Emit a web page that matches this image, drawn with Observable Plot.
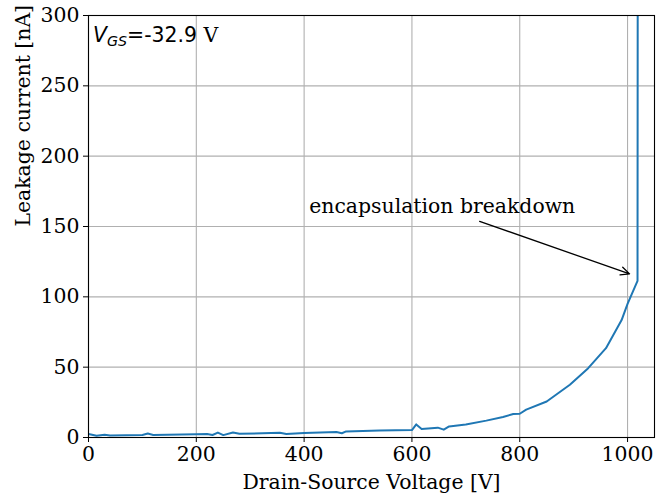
<!DOCTYPE html>
<html>
<head>
<meta charset="utf-8">
<script src="https://cdn.jsdelivr.net/npm/d3@7"></script>
<script src="https://cdn.jsdelivr.net/npm/@observablehq/plot@0.6"></script>
<style>
  html, body { margin: 0; padding: 0; background: #fff; }
  #chart svg { display: block; }
  #chart svg text { font-family: "DejaVu Serif", serif; }
</style>
</head>
<body>
<div id="chart"></div>
<script>
// Drain-source voltage [V]
const voltage = [0, 15, 30, 40, 100, 110, 120, 200, 220, 230, 240, 250, 268, 280, 355, 367, 400, 460, 470, 478, 540, 600, 608, 618, 648, 659, 669, 700, 738, 769, 788, 800, 812, 850, 893, 927, 960, 989, 1000, 1018.5, 1019];
// Leakage current [nA]
const current = [2.5, 1.2, 2, 1.5, 1.8, 2.8, 1.8, 2.3, 2.5, 1.8, 3.5, 1.7, 3.5, 2.6, 3.3, 2.5, 3.2, 3.9, 3, 4.3, 5, 5.3, 9.3, 6.1, 7, 5.6, 7.9, 9.3, 12, 14.6, 16.7, 16.9, 19.8, 25.6, 37.5, 49.3, 63.5, 83.5, 95, 111.3, 400];
const xTicks = [0, 200, 400, 600, 800, 1000];
const yTicks = [0, 50, 100, 150, 200, 250, 300];
const annotationText = ["encapsulation breakdown"];
const annotationPos = [{x: 409.5, y: 164}];
const arrowPos = [{x1: 725.6, y1: 153.7, x2: 1003.7, y2: 116.3}];
const xLabel = ["Drain-Source Voltage [V]"];
const yLabel = ["Leakage current [nA]"];

const data = voltage.map((v, i) => ({v, c: current[i]}));
const serif = '"DejaVu Serif", serif';
const fs = 20.4;

const chart = Plot.plot({
  width: 668,
  height: 497,
  marginLeft: 88,
  marginRight: 14,
  marginTop: 15,
  marginBottom: 60,
  style: {fontFamily: serif, fontSize: fs + "px", color: "black", background: "white"},
  x: {domain: [0, 1050]},
  y: {domain: [0, 300]},
  marks: [
    Plot.gridX(xTicks, {stroke: "#b0b0b0", strokeOpacity: 1, strokeWidth: 1.1}),
    Plot.gridY(yTicks, {stroke: "#b0b0b0", strokeOpacity: 1, strokeWidth: 1.1}),
    Plot.line(data, {x: "v", y: "c", stroke: "#1f77b4", strokeWidth: 2, clip: true}),
    Plot.axisX(xTicks, {tickSize: 5, tickPadding: 4, fontSize: fs, fontFamily: serif, label: null, tickFormat: d => String(d)}),
    Plot.axisY(yTicks, {tickSize: 5, tickPadding: 4, fontSize: fs, fontFamily: serif, label: null, tickFormat: d => String(d)}),
    Plot.frame({stroke: "black", strokeWidth: 1.1}),
    Plot.text(annotationPos, {x: "x", y: "y", text: () => annotationText[0], textAnchor: "start", lineAnchor: "middle", fontSize: fs, fontFamily: serif, fill: "black"}),
    Plot.arrow(arrowPos, {x1: "x1", y1: "y1", x2: "x2", y2: "y2", stroke: "black", strokeWidth: 1.3, headLength: 11, headAngle: 50}),
    Plot.text(xLabel, {frameAnchor: "bottom", dy: 45, lineAnchor: "middle", fontSize: fs, fontFamily: serif, fill: "black"}),
    Plot.text(yLabel, {frameAnchor: "left", dx: -65, rotate: -90, lineAnchor: "middle", fontSize: fs, fontFamily: serif, fill: "black"})
  ]
});

// V_GS annotation with subscript
const svg = d3.select(chart);
const t = svg.append("text")
  .attr("x", 93)
  .attr("y", 42)
  .attr("text-anchor", "start")
  .attr("font-size", fs)
  .attr("fill", "black");
t.append("tspan").style("font-family", '"DejaVu Sans", sans-serif').style("font-style", "italic").text("V");
t.append("tspan").style("font-family", '"DejaVu Sans", sans-serif').style("font-style", "italic").attr("font-size", fs * 0.7).attr("dy", 4).text("GS");
t.append("tspan").style("font-family", '"DejaVu Sans", sans-serif').attr("dy", -4).text("=-32.9");
t.append("tspan").style("font-family", serif).text("\u00a0V");

document.getElementById("chart").appendChild(chart);
</script>
</body>
</html>
